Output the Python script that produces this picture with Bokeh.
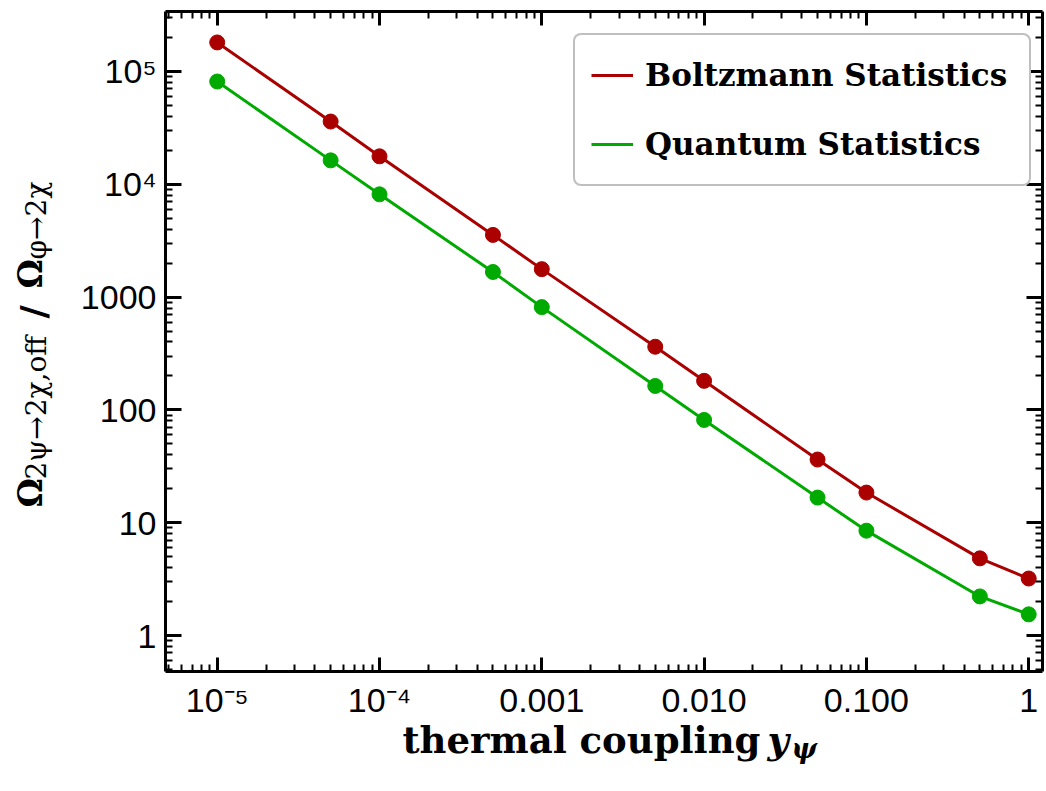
import math
from bokeh.plotting import figure
from bokeh.models import (Range1d, LogAxis, FixedTicker, CustomJSTickFormatter,
                          Label, Legend, LegendItem)
from bokeh.embed import file_html
from bokeh.resources import INLINE

# ---------------- data ----------------
coupling = [1e-5, 5e-5, 1e-4, 5e-4, 1e-3, 5e-3, 1e-2, 5e-2, 0.1, 0.5, 1.0]
boltzmann = [1.81e5, 3.6e4, 1.77e4, 3.56e3, 1.77e3, 363, 181, 36.3, 18.5, 4.83, 3.2]
quantum = [8.15e4, 1.63e4, 8.15e3, 1.67e3, 815, 163, 81.5, 16.7, 8.5, 2.22, 1.54]

x_tick_values = [1e-5, 1e-4, 1e-3, 1e-2, 1e-1, 1.0]
x_tick_labels = ["10\u207b\u2075", "10\u207b\u2074", "0.001", "0.010", "0.100", "1"]
y_tick_values = [1.0, 10.0, 100.0, 1000.0, 1e4, 1e5]
y_tick_labels = ["1", "10", "100", "1000", "10\u2074", "10\u2075"]

series_names = ["Boltzmann Statistics", "Quantum Statistics"]
series_colors = ["#aa0000", "#00aa00"]

x_label_main = "thermal coupling"
x_label_var = "y"
x_label_sub = "\u03c8"
y_label_parts = ["\u03a9", "2\u03c8\u21922\u03c7,off", "/", "\u03a9", "\u03c6\u21922\u03c7"]

# ---------------- figure ----------------
W, H = 1044, 789
# full-canvas data window (log10) and the boxed plotting area inside it
x_view = (10 ** -6.3352, 10 ** 0.0973)
y_view = (10 ** -1.3652, 10 ** 5.6294)
x_box = (10 ** -5.3185, 10 ** 0.0850)
y_box = (10 ** -0.319, 10 ** 5.532)

p = figure(width=W, height=H, x_axis_type="log", y_axis_type="log",
           x_axis_location=None, y_axis_location=None,
           x_range=Range1d(*x_view), y_range=Range1d(*y_view),
           output_backend="svg", toolbar_location=None,
           min_border_left=0, min_border_right=0, min_border_top=0,
           min_border_bottom=0)
p.outline_line_color = None
p.background_fill_color = "white"
p.border_fill_color = "white"
p.grid.visible = False
p.grid.grid_line_color = None
p.xgrid.visible = False
p.ygrid.visible = False


def minors(lo_exp, hi_exp, lo, hi):
    out = []
    for d in range(lo_exp, hi_exp + 1):
        for m in range(2, 10):
            v = m * 10.0 ** d
            if lo <= v <= hi:
                out.append(v)
    return out


x_ticker = FixedTicker(ticks=x_tick_values, minor_ticks=minors(-6, 0, *x_box))
y_ticker = FixedTicker(ticks=y_tick_values, minor_ticks=minors(-1, 5, *y_box))

fmt_code = """
for (let i = 0; i < vals.length; i++) {
  if (Math.abs(Math.log10(tick) - Math.log10(vals[i])) < 1e-6) { return labs[i]; }
}
return "";
"""
x_fmt = CustomJSTickFormatter(args=dict(vals=x_tick_values, labs=x_tick_labels), code=fmt_code)
y_fmt = CustomJSTickFormatter(args=dict(vals=y_tick_values, labs=y_tick_labels), code=fmt_code)


def make_axis(ticker, bounds, fixed, major_len, fmt=None, standoff=10):
    ax = LogAxis(ticker=ticker, bounds=bounds, fixed_location=fixed)
    ax.axis_line_color = "black"
    ax.axis_line_width = 3
    ax.major_tick_line_color = "black"
    ax.major_tick_line_width = 3
    ax.minor_tick_line_color = "black"
    ax.minor_tick_line_width = 2
    ax.major_tick_in = major_len
    ax.major_tick_out = 0
    ax.minor_tick_in = 7
    ax.minor_tick_out = 0
    if fmt is not None:
        ax.formatter = fmt
        ax.major_label_text_font = "Liberation Sans"
        ax.major_label_text_font_size = "34px"
        ax.major_label_text_color = "black"
        ax.major_label_standoff = standoff
    else:
        ax.major_label_text_font_size = "1px"
        ax.major_label_text_color = None
        ax.major_label_standoff = 0
    return ax


p.add_layout(make_axis(x_ticker, x_box, y_box[0], 14, x_fmt, 10), "below")
p.add_layout(make_axis(x_ticker, x_box, y_box[1], 14), "above")
p.add_layout(make_axis(y_ticker, y_box, x_box[0], 16, y_fmt, 9), "left")
p.add_layout(make_axis(y_ticker, y_box, x_box[1], 16), "right")

# ---------------- data glyphs ----------------
line_renderers = []
for ys, col in zip([boltzmann, quantum], series_colors):
    lr = p.line(coupling, ys, line_color=col, line_width=3)
    p.scatter(coupling, ys, marker="circle", size=15, fill_color=col, line_color=col)
    line_renderers.append(lr)

legend = Legend(items=[LegendItem(label=n, renderers=[r]) for n, r in zip(series_names, line_renderers)],
                location=(573, 603))
legend.label_text_font = "DejaVu Serif"
legend.label_text_font_style = "bold"
legend.label_text_font_size = "31px"
legend.label_text_color = "black"
legend.label_height = 48
legend.label_width = 368
legend.glyph_height = 48
legend.glyph_width = 42
legend.label_standoff = 12
legend.spacing = 21
legend.padding = 16
legend.margin = 0
legend.border_line_color = "#808080"
legend.border_line_width = 2
legend.border_radius = 8
legend.background_fill_color = "white"
legend.background_fill_alpha = 1.0
p.add_layout(legend)

# ---------------- axis titles (canvas pixel positions) ----------------
title_pieces = [
    (402, 739, x_label_main, "37px", "bold", 0.0),
    (767, 739, x_label_var, "37px", "bold italic", 0.0),
    (791, 748, x_label_sub, "27px", "bold italic", 0.0),
]
y_parts_pos = [(30, 507, "33px", "bold"), (36, 479, "28px", "normal"),
               (32, 318, "36px", "bold"), (30, 288, "33px", "bold"),
               (36, 259, "28px", "normal")]
for txt, (px, py, fs, fw) in zip(y_label_parts, y_parts_pos):
    title_pieces.append((px, py, txt, fs, fw, math.pi / 2))

for px, py, txt, fs, fw, ang in title_pieces:
    p.add_layout(Label(x=px, y=py, x_units="canvas", y_units="canvas",
                       text=txt, angle=ang, text_font="DejaVu Serif", text_font_style=fw,
                       text_font_size=fs, text_color="black",
                       text_baseline="alphabetic", text_align="left"))

open("out.html", "w").write(file_html(p, INLINE))
